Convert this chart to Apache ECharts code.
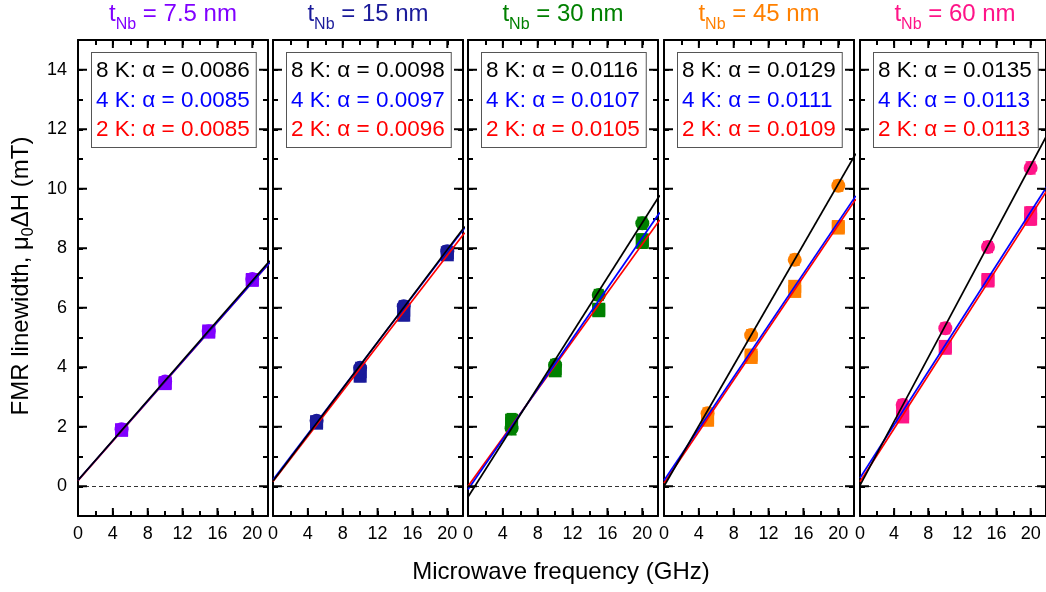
<!DOCTYPE html>
<html><head><meta charset="utf-8">
<script src="https://cdn.jsdelivr.net/npm/echarts@6/dist/echarts.min.js"></script>
<style>html,body{margin:0;padding:0;background:#fff}#c{width:1046px;height:592px}</style>
</head><body><div id="c"></div>
<script>
// ---------------- data ----------------
const thickness = ['7.5', '15', '30', '45', '60'];
const panelColors = ['#8000FF', '#1A1A9A', '#008000', '#FF8000', '#FF1488'];
const freqs = [5, 10, 15, 20];
const alpha8K = ['0.0086', '0.0098', '0.0116', '0.0129', '0.0135'];
const alpha4K = ['0.0085', '0.0097', '0.0107', '0.0111', '0.0113'];
const alpha2K = ['0.0085', '0.0096', '0.0105', '0.0109', '0.0113'];
const dH8K = [[1.92, 3.52, 5.21, 6.97], [2.20, 3.98, 6.05, 7.90], [1.95, 4.08, 6.43, 8.84], [2.45, 5.08, 7.61, 10.10], [2.73, 5.31, 8.04, 10.70]];
const dH4K = [[1.90, 3.48, 5.22, 6.95], [2.17, 3.85, 5.92, 7.85], [2.22, 3.96, 5.95, 8.28], [2.30, 4.41, 6.72, 8.73], [2.45, 4.70, 6.95, 9.19]];
const dH2K = [[1.88, 3.45, 5.18, 6.92], [2.12, 3.70, 5.75, 7.78], [2.10, 3.88, 5.90, 8.20], [2.22, 4.33, 6.55, 8.68], [2.33, 4.64, 6.90, 8.98]];
const dHErr = [[0.15, 0.15, 0.15, 0.15], [0.15, 0.18, 0.18, 0.18], [0.22, 0.18, 0.18, 0.2], [0.18, 0.18, 0.18, 0.18], [0.18, 0.18, 0.18, 0.2]];
const fitFreqs = [0, 22];
const fit8K = [[0.20, 7.58], [0.18, 8.73], [-0.36, 9.78], [0.00, 11.18], [0.03, 11.85]];
const fit4K = [[0.20, 7.52], [0.22, 8.69], [-0.11, 9.20], [0.19, 9.76], [0.28, 10.12]];
const fit2K = [[0.19, 7.52], [0.16, 8.52], [0.00, 8.95], [0.10, 9.65], [0.15, 9.98]];
const xTickLabels = [0, 4, 8, 12, 16, 20];
const yTickLabels = [0, 2, 4, 6, 8, 10, 12, 14];
const xAxisTitle = 'Microwave frequency (GHz)';

// ---------------- layout ----------------
const FONT = 'Liberation Sans, Arial, sans-serif';
const gridLefts = [78, 273, 468, 664, 860];
const GT = 40, GW = 190, GH = 476;
const X_MAX = 21.8;

const chart = echarts.init(document.getElementById('c'), null, {renderer: 'canvas'});

const grids = [], xAxes = [], yAxes = [], series = [], graphics = [];

function majorTickRender(params, api) {
  const cs = params.coordSys;
  const kind = api.value(2);
  const st = {stroke: '#000', lineWidth: 2};
  if (kind === 0) {
    const px = api.coord([api.value(0), 0])[0];
    return {type: 'group', children: [
      {type: 'line', shape: {x1: px, y1: cs.y + cs.height, x2: px, y2: cs.y + cs.height - 8}, style: st},
      {type: 'line', shape: {x1: px, y1: cs.y, x2: px, y2: cs.y + 8}, style: st}
    ]};
  }
  const py = api.coord([0, api.value(1)])[1];
  return {type: 'group', children: [
    {type: 'line', shape: {x1: cs.x, y1: py, x2: cs.x + 9, y2: py}, style: st},
    {type: 'line', shape: {x1: cs.x + cs.width, y1: py, x2: cs.x + cs.width - 9, y2: py}, style: st}
  ]};
}

function errRender(params, api) {
  const x = api.value(0), y = api.value(1), e = api.value(2);
  const hi = api.coord([x, y + e]), lo = api.coord([x, y - e]);
  const w = 5;
  const st = {stroke: api.visual('color'), lineWidth: 1.5};
  return {type: 'group', children: [
    {type: 'line', shape: {x1: hi[0], y1: hi[1], x2: lo[0], y2: lo[1]}, style: st},
    {type: 'line', shape: {x1: hi[0] - w, y1: hi[1], x2: hi[0] + w, y2: hi[1]}, style: st},
    {type: 'line', shape: {x1: lo[0] - w, y1: lo[1], x2: lo[0] + w, y2: lo[1]}, style: st}
  ]};
}

thickness.forEach((t, i) => {
  const L = gridLefts[i];
  grids.push({left: L, top: GT, width: GW, height: GH, containLabel: false});
  const axLine = {show: true, onZero: false, lineStyle: {color: '#000', width: 2}};
  const minorTick = {show: true, inside: true, length: 5, lineStyle: {color: '#000', width: 2}};
  xAxes.push({
    gridIndex: i, type: 'value', position: 'bottom', min: 0, max: X_MAX, interval: 2,
    axisLine: axLine, axisTick: minorTick, splitLine: {show: false},
    axisLabel: {show: true, margin: 9, fontSize: 18, color: '#000', fontFamily: FONT,
      showMaxLabel: false,
      formatter: v => (xTickLabels.indexOf(v) >= 0 ? String(v) : '')}
  });
  xAxes.push({
    gridIndex: i, type: 'value', position: 'top', min: 0, max: X_MAX, interval: 2,
    axisLine: axLine, axisTick: minorTick, splitLine: {show: false}, axisLabel: {show: false}
  });
  yAxes.push({
    gridIndex: i, type: 'value', position: 'left', min: -1, max: 15, interval: 1,
    axisLine: axLine, axisTick: minorTick, splitLine: {show: false},
    axisLabel: {show: i === 0, margin: 11, fontSize: 18, color: '#000', fontFamily: FONT,
      formatter: v => (yTickLabels.indexOf(v) >= 0 ? String(v) : '')}
  });
  yAxes.push({
    gridIndex: i, type: 'value', position: 'right', min: -1, max: 15, interval: 1,
    axisLine: axLine, axisTick: minorTick, splitLine: {show: false}, axisLabel: {show: false}
  });
  const xi = 2 * i, yi = 2 * i;
  const col = panelColors[i];

  // major ticks
  const tickData = xTickLabels.map(v => [v, 0, 0]).concat(yTickLabels.map(v => [0, v, 1]));
  series.push({type: 'custom', xAxisIndex: xi, yAxisIndex: yi, renderItem: majorTickRender,
    data: tickData, silent: true, z: 20, encode: {x: 0, y: 1}});

  // error bars
  const errData = [];
  [dH2K, dH4K, dH8K].forEach(arr => freqs.forEach((f, k) => errData.push([f, arr[i][k], dHErr[i][k]])));
  series.push({type: 'custom', xAxisIndex: xi, yAxisIndex: yi, renderItem: errRender,
    data: errData, itemStyle: {color: col}, silent: true, z: 3, encode: {x: 0, y: 1}});

  // data points
  const pts = [
    {arr: dH2K, sym: 'rect', size: 13},
    {arr: dH4K, sym: 'rect', size: 13},
    {arr: dH8K, sym: 'circle', size: 14}
  ];
  pts.forEach((p, k) => {
    series.push({type: 'scatter', xAxisIndex: xi, yAxisIndex: yi, symbol: p.sym, symbolSize: p.size,
      itemStyle: {color: col, opacity: 1}, z: 4 + k, silent: true,
      data: freqs.map((f, j) => [f, p.arr[i][j]])});
  });

  // fits
  const fits = [{arr: fit2K, c: '#FF0000'}, {arr: fit4K, c: '#0000FF'}, {arr: fit8K, c: '#000000'}];
  fits.forEach((fl, k) => {
    const s = {type: 'line', xAxisIndex: xi, yAxisIndex: yi, showSymbol: false, symbol: 'none',
      lineStyle: {color: fl.c, width: 1.7}, itemStyle: {color: fl.c}, z: 10 + k, silent: true, clip: true,
      data: fitFreqs.map((f, j) => [f, fl.arr[i][j]])};
    if (k === 0) {
      s.markLine = {silent: true, symbol: ['none', 'none'], label: {show: false},
        lineStyle: {color: '#333', type: [4, 3], width: 1}, data: [{yAxis: 0}], z: 2};
    }
    series.push(s);
  });

  // panel title
  graphics.push({type: 'text', x: L + GW / 2, y: 2, z: 100, silent: true, style: {
    text: '{m|t}{s|Nb}{m| = ' + t + ' nm}',
    align: 'center', verticalAlign: 'top',
    rich: {
      m: {fill: col, fontSize: 24, fontFamily: FONT, verticalAlign: 'top'},
      s: {fill: col, fontSize: 16, fontFamily: FONT, verticalAlign: 'top', padding: [15, 0, 0, 0]}
    }
  }});

  // alpha box
  graphics.push({type: 'text', x: L + 14, y: 53, z: 100, silent: true, style: {
    text: '{k|8 K: α = ' + alpha8K[i] + '}\n{b|4 K: α = ' + alpha4K[i] + '}\n{r|2 K: α = ' + alpha2K[i] + '}',
    backgroundColor: '#fff', borderColor: '#555', borderWidth: 1, padding: [3, 6, 2, 4],
    rich: {
      k: {fill: '#000', fontSize: 22.5, fontFamily: FONT, lineHeight: 29.7},
      b: {fill: '#0000FF', fontSize: 22.5, fontFamily: FONT, lineHeight: 29.7},
      r: {fill: '#FF0000', fontSize: 22.5, fontFamily: FONT, lineHeight: 29.7}
    }
  }});
});

// axis titles
graphics.push({type: 'text', x: 23, y: 276, rotation: Math.PI / 2, z: 100, silent: true, style: {
  text: '{m|FMR linewidth, μ}{s|0}{m|ΔH (mT)}',
  align: 'center', verticalAlign: 'middle',
  rich: {
    m: {fill: '#000', fontSize: 24, fontFamily: FONT, verticalAlign: 'top'},
    s: {fill: '#000', fontSize: 16, fontFamily: FONT, verticalAlign: 'top', padding: [12, 0, 0, 0]}
  }
}});
graphics.push({type: 'text', x: 561, y: 572, z: 100, silent: true, style: {
  text: xAxisTitle, fill: '#000', fontSize: 24, fontFamily: FONT, align: 'center', verticalAlign: 'middle'
}});

chart.setOption({
  animation: false,
  backgroundColor: '#fff',
  grid: grids,
  xAxis: xAxes,
  yAxis: yAxes,
  series: series,
  graphic: graphics
});
</script>
</body></html>
